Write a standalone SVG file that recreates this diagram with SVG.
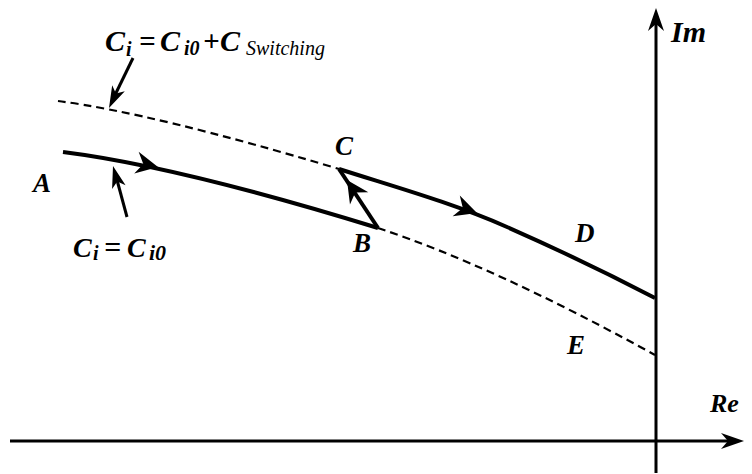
<svg xmlns="http://www.w3.org/2000/svg" xmlns:xlink="http://www.w3.org/1999/xlink" width="752" height="474" viewBox="0 0 752 474">
<style>
.bg{fill:#fff}
.solid{fill:none;stroke:#000;stroke-width:4;stroke-linecap:butt;stroke-linejoin:round}
.dash{fill:none;stroke:#000;stroke-width:2.2;stroke-dasharray:8 5}
.axis{fill:none;stroke:#000;stroke-width:3}
.lead{fill:none;stroke:#000;stroke-width:3}
.head{fill:#000;stroke:none}
text{font-family:'Liberation Serif',serif;font-weight:700;font-style:italic;fill:#000}
.sub{font-size:20px}
.subn{font-size:20px;font-weight:400}
</style>
<defs>
<path id="ah" d="M0,0 L-22,-11 L-15,0 L-22,11 Z"/>
<path id="lh" d="M0,0 L-22,-7 L-16,0 L-22,7 Z"/>
<path id="xh" d="M0,0 L-23,-8 L-16,0 L-23,8 Z"/>
</defs>
<rect class="bg" x="0" y="0" width="752" height="474"/>

<g id="axes">
<line class="axis" x1="656" y1="14" x2="656" y2="473"/>
<line class="axis" x1="10" y1="441" x2="738" y2="441"/>
<use href="#xh" class="head" transform="translate(656,8) rotate(-90)"/>
<use href="#xh" class="head" transform="translate(744,441)"/>
</g>

<g id="connectors">
<path class="dash" d="M58,101 Q154,113.5 339,169"/>
<path class="solid" d="M339,169 C395,187 451,202.4 507,227 C556,248.6 606,272.5 655,298"/>
<path class="solid" d="M63,152 Q178.6,166.5 378,228"/>
<path class="dash" d="M378,228 Q493.4,266.1 655,355"/>
<line class="solid" x1="378" y1="228" x2="339" y2="169"/>
<use href="#ah" class="head" transform="translate(158,167) rotate(11.5)"/>
<use href="#ah" class="head" transform="translate(477,213) rotate(19)"/>
<use href="#ah" class="head" transform="translate(347,180) rotate(-123.5)"/>
<line class="lead" x1="133" y1="58" x2="115" y2="95"/>
<use href="#lh" class="head" transform="translate(109,108) rotate(115.6)"/>
<line class="lead" x1="127" y1="217" x2="117" y2="180"/>
<use href="#lh" class="head" transform="translate(113,166) rotate(-105.4)"/>
</g>

<g id="label-top">
<text x="105" y="51" font-size="30">C</text>
<text class="sub" x="126" y="56">i</text>
<text x="139" y="51" font-size="29">=</text>
<text x="160" y="51" font-size="30">C</text>
<text class="sub" x="184" y="55">i0</text>
<text x="203" y="51" font-size="29">+</text>
<text x="220" y="51" font-size="30">C</text>
<text class="subn" x="246" y="55">Switching</text>
</g>

<g id="label-bottom">
<text x="73" y="257" font-size="28">C</text>
<text class="sub" x="93" y="260">i</text>
<text x="104" y="257" font-size="30">=</text>
<text x="127" y="257" font-size="28">C</text>
<text x="149" y="260" font-size="22">i0</text>
</g>

<g id="node-A"><text x="33" y="192" font-size="27">A</text></g>
<g id="node-B"><text x="353" y="252" font-size="27">B</text></g>
<g id="node-C"><text x="335" y="155" font-size="27">C</text></g>
<g id="node-D"><text x="575" y="242" font-size="27">D</text></g>
<g id="node-E"><text x="567" y="354" font-size="27">E</text></g>
<g id="label-Im"><text x="671" y="42" font-size="30">Im</text></g>
<g id="label-Re"><text x="710" y="412" font-size="26">Re</text></g>
</svg>
